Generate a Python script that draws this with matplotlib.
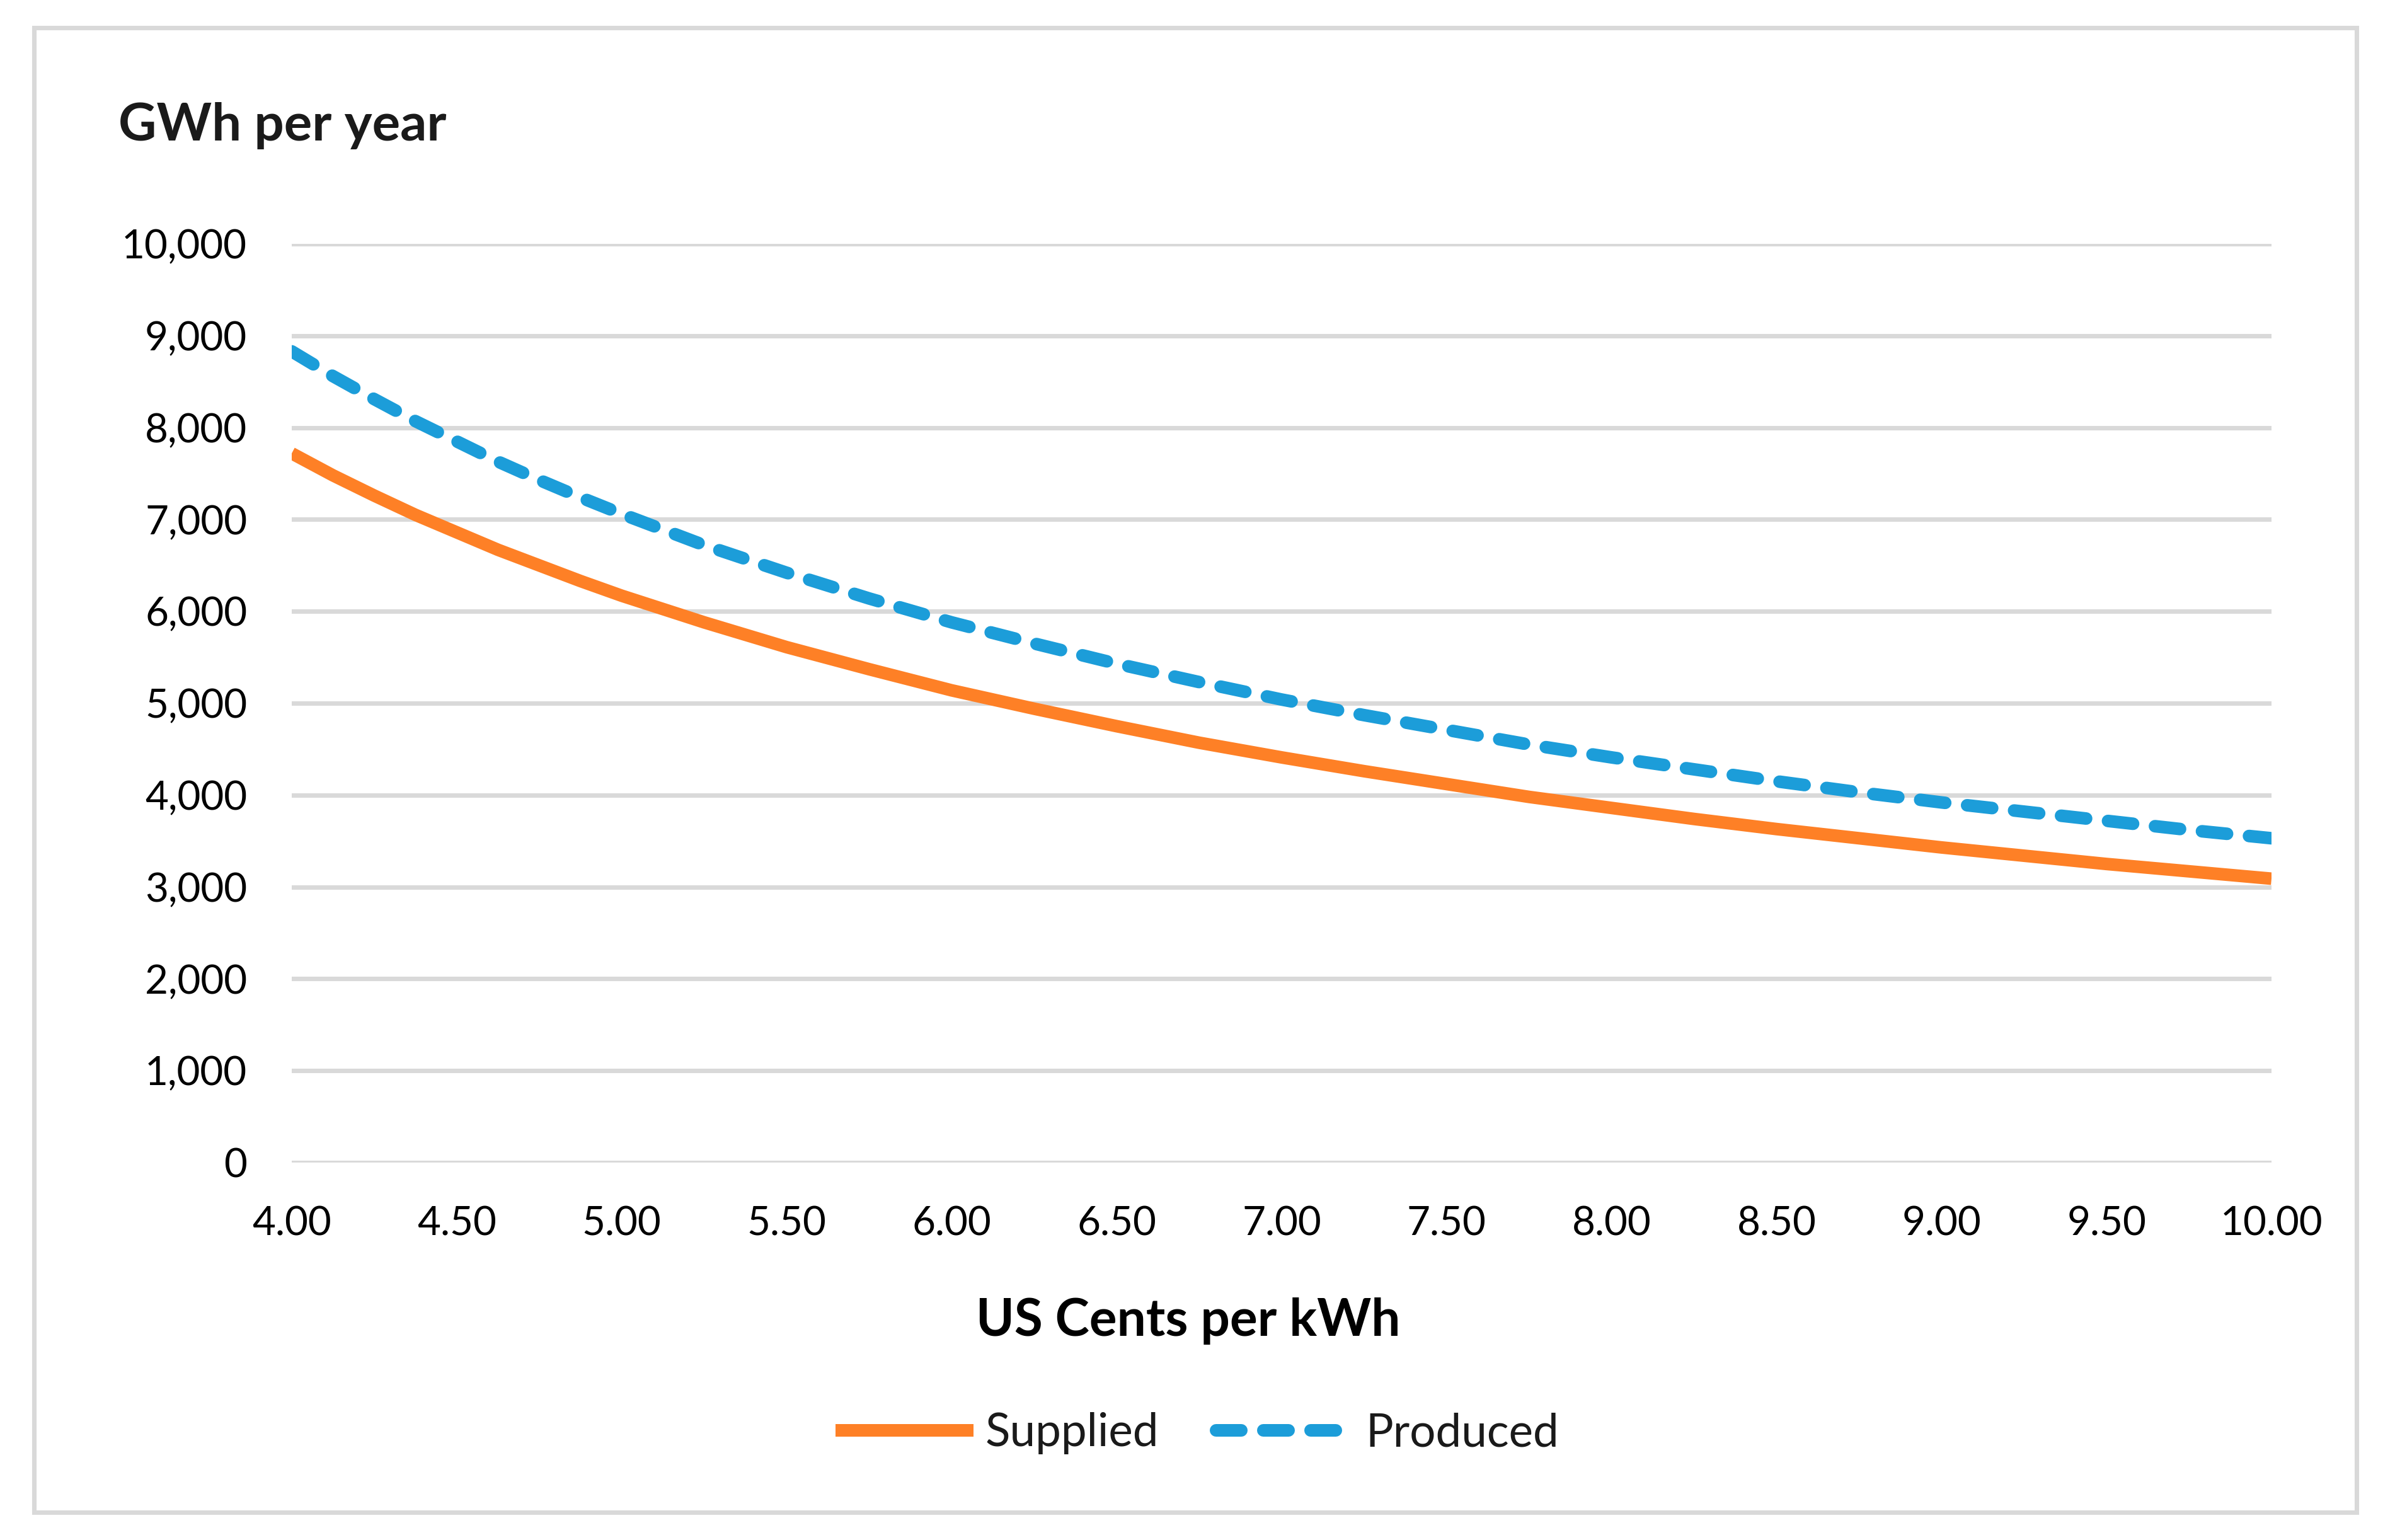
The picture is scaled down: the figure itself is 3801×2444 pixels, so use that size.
import matplotlib
matplotlib.use("Agg")
import matplotlib.pyplot as plt
from matplotlib.patches import Rectangle
from matplotlib.ticker import FuncFormatter, MultipleLocator

plt.rcParams['font.family'] = ['Lato', 'DejaVu Sans']

# price, US cents per kWh
price = [4.00, 4.125, 4.25, 4.375, 4.50, 4.625, 4.75, 4.875, 5.00, 5.25, 5.50, 5.75,
         6.00, 6.25, 6.50, 6.75, 7.00, 7.25, 7.50, 7.75, 8.00, 8.25, 8.50, 8.75,
         9.00, 9.25, 9.50, 9.75, 10.00]
# GWh per year
supplied = [7720, 7480, 7260, 7050, 6860, 6670, 6500, 6330, 6170, 5880, 5610, 5370,
            5140, 4940, 4750, 4570, 4410, 4260, 4120, 3980, 3860, 3740, 3630, 3530,
            3430, 3340, 3250, 3170, 3090]
produced = [8830, 8560, 8310, 8070, 7850, 7630, 7430, 7240, 7060, 6720, 6420, 6140,
            5880, 5650, 5430, 5230, 5040, 4870, 4710, 4550, 4410, 4280, 4150, 4030,
            3920, 3820, 3720, 3620, 3530]

W, H = 3801, 2444
fig = plt.figure(figsize=(W / 300, H / 300), dpi=300)
ax = fig.add_axes([463 / W, 1 - 1845 / H, (3605 - 463) / W, (1845 - 387) / H])

ax.plot(price, supplied, color='#FE8026', lw=4.8, solid_capstyle='butt',
        solid_joinstyle='round', label='Supplied', zorder=3)
ax.plot(price, produced, color='#1C9DD9', lw=4.8, linestyle=(0, (2.0, 1.75)),
        dash_capstyle='round', label='Produced', zorder=3)

ax.set_xlim(4, 10)
ax.set_ylim(0, 10000)
ax.xaxis.set_major_locator(MultipleLocator(0.5))
ax.yaxis.set_major_locator(MultipleLocator(1000))
ax.xaxis.set_major_formatter(FuncFormatter(lambda v, p: f"{v:.2f}"))
ax.yaxis.set_major_formatter(FuncFormatter(lambda v, p: f"{v:,.0f}"))
ax.grid(axis='y', color='#D9D9D9', lw=1.7, zorder=0)
ax.set_axisbelow(True)
for s in ax.spines.values():
    s.set_visible(False)
ax.tick_params(length=0, labelsize=15.3, colors='black')
ax.tick_params(axis='y', pad=17)
ax.tick_params(axis='x', pad=16.5)

fig.text(188 / W, 1 - 223 / H, 'GWh per year', fontsize=20, fontweight='bold',
         color='#1a1a1a', va='baseline', ha='left')
fig.text(1886 / W, 1 - 2120 / H, 'US Cents per kWh', fontsize=19.7, fontweight='bold',
         color='black', va='baseline', ha='center')

leg = fig.legend(loc='center', bbox_to_anchor=(1900 / W, 1 - 2275 / H), ncol=2,
                 frameon=False, fontsize=17.5, handlelength=3.0, handletextpad=0.25,
                 columnspacing=1.25)
for t in leg.get_texts():
    t.set_color('#1a1a1a')

fig.patches.append(Rectangle((54 / W, 1 - 2400 / H), (3740 - 54) / W, (2400 - 44) / H,
                             transform=fig.transFigure, fill=False,
                             edgecolor='#D9D9D9', lw=1.7))

fig.savefig('out.png', dpi=300, facecolor='white')
